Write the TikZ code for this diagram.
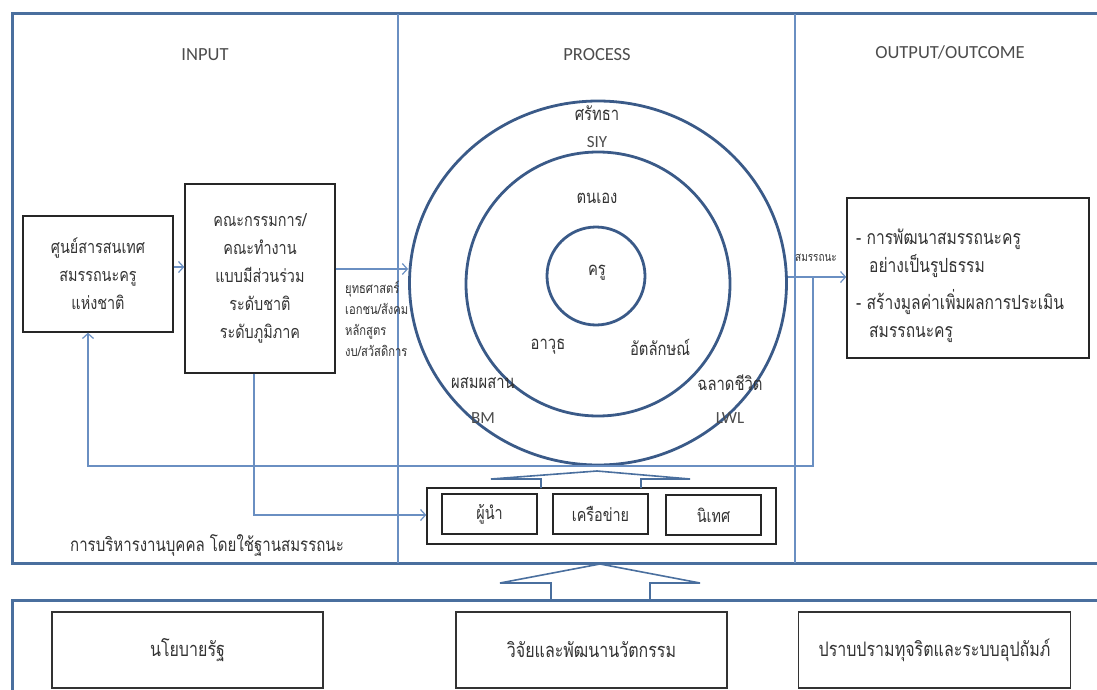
\documentclass[tikz,border=0pt]{standalone}
\usepackage{fontspec}
\setmainfont{Carlito}
\newfontfamily\thaifont[Script=Thai,FakeStretch=0.8]{Loma}
\usetikzlibrary{arrows.meta,shapes.geometric}
\definecolor{frameblue}{HTML}{4A6F9E}
\definecolor{lineblue}{HTML}{6A8FC2}
\definecolor{circblue}{HTML}{3A5A88}
\definecolor{txt}{HTML}{333333}
\begin{document}
\begin{tikzpicture}[x=1pt,y=-1pt,
  every node/.style={text=txt},
  frame/.style={draw=frameblue, line width=3pt},
  divider/.style={draw=lineblue, line width=1.1pt},
  box/.style={draw=black!85, line width=1.4pt, align=center, inner sep=0pt,
    font=\thaifont\fontsize{18}{28}\selectfont},
  pbox/.style={draw=black!85, line width=1.2pt, inner sep=0pt,
    minimum width=95pt, minimum height=40pt, font=\thaifont\fontsize{18}{20}\selectfont},
  bbox/.style={draw=black!80, line width=1.4pt, inner sep=0pt,
    minimum width=271pt, minimum height=76pt, font=\thaifont\fontsize{20}{22}\selectfont},
  head/.style={font=\fontsize{18.5}{20}\selectfont, text=black!70},
  ring/.style={draw=circblue, line width=2.8pt, inner sep=0pt},
  clab/.style={font=\thaifont\fontsize{18.5}{20}\selectfont},
  elab/.style={font=\fontsize{17}{18}\selectfont, text=black!70},
  small/.style={font=\thaifont\fontsize{14}{21}\selectfont, align=left, inner sep=0pt},
  arr/.style={draw=lineblue, line width=1.2pt,
    -{Straight Barb[length=5pt,width=11pt,line width=1.2pt]}},
  hollow/.style={draw=frameblue, line width=1.6pt, line join=miter}
]
\useasboundingbox (0,0) rectangle (1097,690);
\clip (0,0) rectangle (1097,690);

% frames
\draw[frame] (12,14) rectangle (1110,563);
\draw[frame] (12,600) rectangle (1110,710);
\draw[divider] (398,14) -- (398,563);
\draw[divider] (795,14) -- (795,563);

% headings
\node[head] (hin) at (205,55) {INPUT};
\node[head] (hpr) at (597,55) {PROCESS};
\node[head] (hout) at (950,52) {OUTPUT/OUTCOME};

% input boxes
\node[box, minimum width=150pt, minimum height=116pt] (box1) at (98,274)
  {ศูนย์สารสนเทศ\\สมรรถนะครู\\แห่งชาติ};
\node[box, minimum width=150pt, minimum height=189pt] (box2) at (260,278.5)
  {คณะกรรมการ/\\คณะทำงาน\\แบบมีส่วนร่วม\\ระดับชาติ\\ระดับภูมิภาค};

% circles
\node[ring, ellipse, minimum width=377pt, minimum height=364pt] (outer) at (598,283) {};
\node[ring, circle, minimum size=264pt] (middle) at (598,284) {};
\node[ring, circle, minimum size=98pt] (inner) at (596,276) {};

\node[clab] (l1) at (597,113) {ศรัทธา};
\node[elab] (l2) at (597,142) {SIY};
\node[clab] (l3) at (597,198) {ตนเอง};
\node[clab] (l4) at (597,273) {ครู};
\node[clab] (l5) at (548,347) {อาวุธ};
\node[clab] (l6) at (660,347) {อัตลักษณ์};
\node[clab] (l7) at (483,383) {ผสมผสาน};
\node[elab] (l8) at (483,418) {BM};
\node[clab] (l9) at (730,383) {ฉลาดชีวิต};
\node[elab] (l10) at (730,418) {LWL};

% small labels
\node[small, anchor=north west] (lst) at (345,281)
  {ยุทธศาสตร์\\เอกชน/สังคม\\หลักสูตร\\งบ/สวัสดิการ};
\node[small, font=\thaifont\fontsize{12.5}{14}\selectfont] (lcomp) at (816,258) {สมรรถนะ};

% output box
\node[draw=black!85, line width=1.4pt, minimum width=242pt, minimum height=160pt,
  inner sep=0pt] (rbox) at (968,278) {};
\node[font=\thaifont\fontsize{19.5}{28}\selectfont, align=left, anchor=west, inner sep=0pt] (rtext) at (856,286)
  {- การพัฒนาสมรรถนะครู\\\hspace*{13pt}อย่างเป็นรูปธรรม\\[9pt]- สร้างมูลค่าเพิ่มผลการประเมิน\\\hspace*{13pt}สมรรถนะครู};

% process container
\node[draw=black!85, line width=1.4pt, minimum width=349pt, minimum height=56pt, inner sep=0pt]
  (cont) at (601.5,516) {};
\node[pbox] (p1) at (489.5,514) {ผู้นำ};
\node[pbox] (p2) at (600.5,514) {เครือข่าย};
\node[pbox] (p3) at (713.5,515) {นิเทศ};

\node[font=\thaifont\fontsize{18.8}{20}\selectfont] (hrm) at (207,545) {การบริหารงานบุคคล โดยใช้ฐานสมรรถนะ};

% bottom boxes
\node[bbox] (b1) at (187.5,650) {นโยบายรัฐ};
\node[bbox] (b2) at (591.5,650) {วิจัยและพัฒนานวัตกรรม};
\node[bbox, minimum width=272pt] (b3) at (934.5,650) {ปราบปรามทุจริตและระบบอุปถัมภ์};

% connectors
\draw[arr] ([yshift=7pt]box1.east) -- ([yshift=7pt]box1.east -| box2.west);
\draw[arr] ([yshift=9.5pt]box2.east) -- ([yshift=9.5pt]box2.east -| outer.west);
\draw[arr] ([yshift=1pt]rbox.west -| outer.east) -- ([yshift=1pt]rbox.west);
\coordinate (fb) at (813,277);
\coordinate (fbc) at (88,466);
\draw[arr] (fb) |- (fbc) -- (fbc |- box1.south);
\draw[arr] ([xshift=-6pt]box2.south) |- ([yshift=1pt]cont.west);

% hollow arrows
\draw[hollow] (541,488) -- (541,479) -- (491,479) -- (597,471) -- (690,479) -- (641,479) -- (641,488);
\draw[hollow] (551,600) -- (551,583) -- (500,583) -- (600,564) -- (700,583) -- (650,583) -- (650,600);
\end{tikzpicture}
\end{document}
